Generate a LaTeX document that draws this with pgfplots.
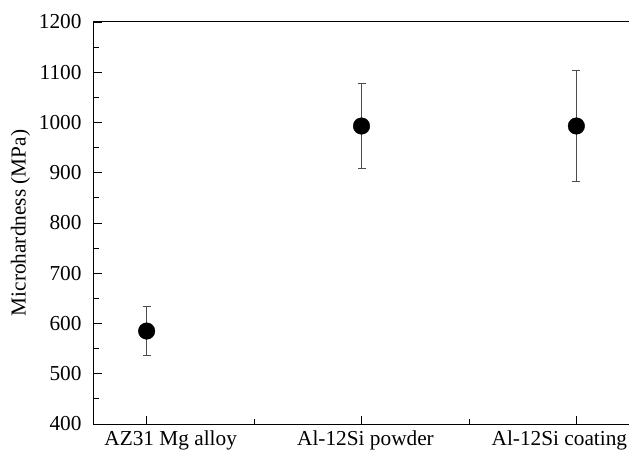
\documentclass[border=0pt]{standalone}
\usepackage{fontspec}
\setmainfont{Liberation Serif}
\usepackage{pgfplots}
\pgfplotsset{compat=1.18}

\begin{document}
\begin{tikzpicture}
\begin{axis}[name=ax,scale only axis,width=535bp,height=402bp,
  xmin=-0.245,xmax=2.245,ymin=400,ymax=1200,
  xtick={0,1,2},
  % labels sit a little off their ticks in the original
  xticklabels={\hspace*{48bp}AZ31 Mg alloy,\hspace*{8bp}Al-12Si powder,Al-12Si coating\hspace*{34bp}},
  minor xtick={0.5,1.5},
  ytick={400,500,...,1200},minor y tick num=1,
  xtick pos=left,ytick pos=left,tick align=inside,
  major tick length=8bp,minor tick length=5bp,
  axis line style={line width=1bp},
  every tick/.style={black,line width=0.8bp},
  ylabel={Microhardness (MPa)},
  ylabel style={at={(ticklabel cs:0.5)},anchor=south,yshift=2bp},
  tick label style={font=\fontsize{21.3bp}{23bp}\selectfont},
  label style={font=\fontsize{21.3bp}{23bp}\selectfont},
  /pgf/number format/assume math mode=true,
  /pgf/number format/set thousands separator={},
  yticklabel style={xshift=-9bp},
  xticklabel style={yshift=-3bp}]
\addplot+[only marks,mark=*,mark size=8.3bp,black,mark options={fill=black},
  error bars/.cd,y dir=both,y explicit,
  error bar style={color=black!70,line width=0.9bp},
  error mark options={rotate=90,mark size=4bp,color=black!70,line width=0.9bp}]
table[x=x,y=y,y error=e] {
x y e
0 585 49
1 993 85
2 993 110
};
\end{axis}
\path (ax.south west) ++(-94bp,-34bp) coordinate (bl);
\path (ax.north east) ++(0bp,22bp) coordinate (tr);
\pgfresetboundingbox
\useasboundingbox (bl) rectangle (tr);
\end{tikzpicture}
\end{document}
